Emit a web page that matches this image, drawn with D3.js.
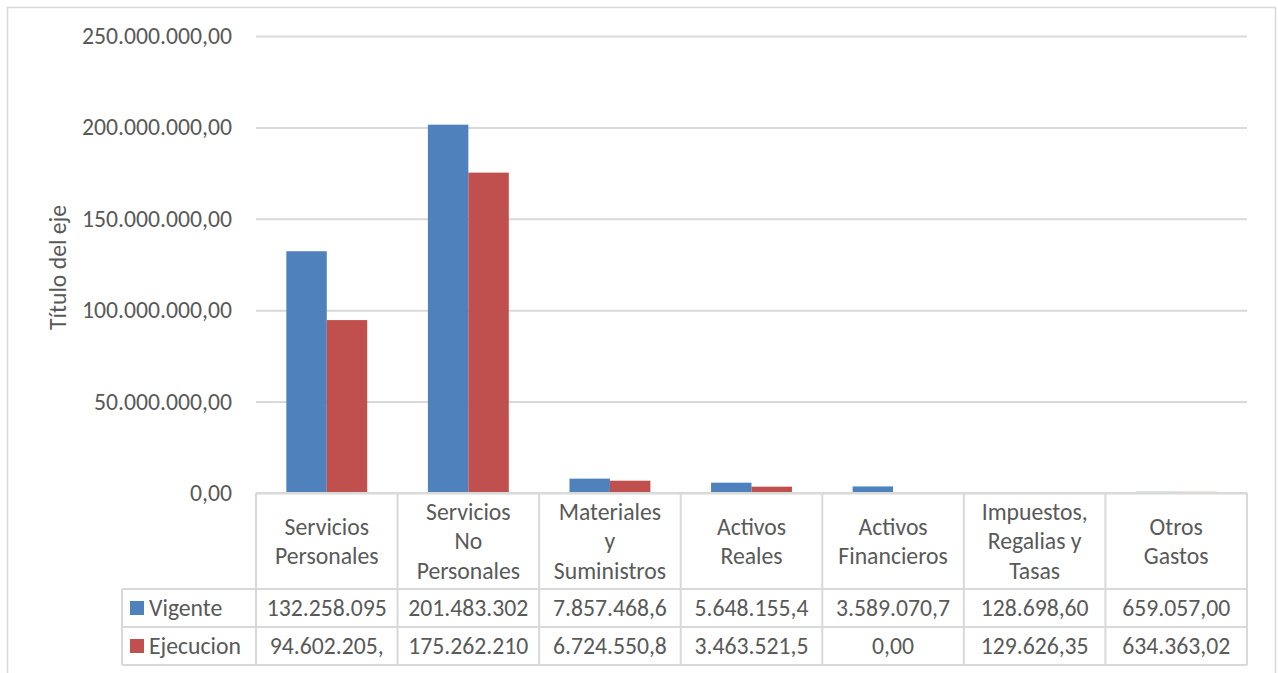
<!DOCTYPE html>
<html>
<head>
<meta charset="utf-8">
<script src="https://cdn.jsdelivr.net/npm/d3@7"></script>
<style>
  html, body { margin: 0; padding: 0; background: #fff; }
  svg { display: block; }
  text { font-family: Carlito, Lato, "Open Sans", sans-serif; fill: #595959; }
</style>
</head>
<body>
<svg id="chart" width="1278" height="673"></svg>
<script>
// ---- data ----
const categories = ["Servicios Personales", "Servicios No Personales", "Materiales y Suministros",
  "Activos Reales", "Activos Financieros", "Impuestos, Regalias y Tasas", "Otros Gastos"];
const categoryLines = [["Servicios", "Personales"], ["Servicios", "No", "Personales"],
  ["Materiales", "y", "Suministros"], ["Activos", "Reales"], ["Activos", "Financieros"],
  ["Impuestos,", "Regalias y", "Tasas"], ["Otros", "Gastos"]];
const seriesNames = ["Vigente", "Ejecucion"];
const vigente = [132258095, 201483302, 7857468.6, 5648155.4, 3589070.7, 128698.60, 659057.00];
const ejecucion = [94602205, 175262210, 6724550.8, 3463521.5, 0, 129626.35, 634363.02];
// as shown (clipped) in the data table
const vigenteLabels = ["132.258.095", "201.483.302", "7.857.468,6", "5.648.155,4", "3.589.070,7", "128.698,60", "659.057,00"];
const ejecucionLabels = ["94.602.205,", "175.262.210", "6.724.550,8", "3.463.521,5", "0,00", "129.626,35", "634.363,02"];
const yTicks = [0, 50000000, 100000000, 150000000, 200000000, 250000000];
const seriesColors = ["#4F81BD", "#C0504D"];
const axisTitle = "Título del eje";

// ---- layout ----
const svg = d3.select("#chart");
const plotLeft = 256, plotRight = 1247, plotTop = 36, plotBottom = 493;
const headerBottom = 589, row1Bottom = 627, row2Bottom = 665, legendLeft = 122;
const gridColor = "#D9D9D9";
const fontSize = 23.7;

const locale = d3.formatLocale({decimal: ",", thousands: ".", grouping: [3], currency: ["", ""]});
const fmt = locale.format(",.2f");

const x = d3.scaleBand().domain(categories).range([plotLeft, plotRight]).paddingInner(0).paddingOuter(0);
const xs = d3.scaleBand().domain(seriesNames).range([0, x.bandwidth()]).paddingInner(0).paddingOuter(0.75);
const y = d3.scaleLinear().domain([0, 250000000]).range([plotBottom, plotTop]);

// outer chart border
svg.append("rect").attr("x", 7.5).attr("y", 7.5).attr("width", 1268).attr("height", 700)
  .attr("fill", "none").attr("stroke", gridColor).attr("stroke-width", 1.5);

// gridlines + y axis labels via d3 axis
const yAxis = d3.axisLeft(y).tickValues(yTicks).tickFormat(fmt).tickSize(-(plotRight - plotLeft)).tickPadding(24);
const gy = svg.append("g").attr("transform", `translate(${plotLeft},0)`).call(yAxis);
gy.select(".domain").remove();
gy.selectAll(".tick line").attr("stroke", gridColor).attr("stroke-width", 2);
gy.selectAll(".tick text").attr("font-size", fontSize).attr("fill", "#595959")
  .style("font-family", "Carlito, Lato, 'Open Sans', sans-serif");

// axis title
svg.append("text")
  .attr("transform", `translate(66,${(plotTop + plotBottom) / 2 + 3}) rotate(-90)`)
  .attr("text-anchor", "middle")
  .attr("font-size", fontSize)
  .text(axisTitle);

// bars
const data = [vigente, ejecucion];
const seriesG = svg.append("g").selectAll("g").data(seriesNames).join("g")
  .attr("fill", (d, i) => seriesColors[i]);
seriesG.selectAll("rect")
  .data((s, i) => data[i].map((v, j) => ({cat: categories[j], v, s})))
  .join("rect")
  .attr("x", d => x(d.cat) + xs(d.s))
  .attr("width", xs.bandwidth())
  .attr("y", d => y(d.v))
  .attr("height", d => y(0) - y(d.v));

// ---- data table ----
const t = svg.append("g");
const lineStyle = sel => sel.attr("stroke", gridColor).attr("stroke-width", 2).attr("fill", "none");
// horizontal lines
t.append("line").attr("x1", plotLeft).attr("x2", plotRight).attr("y1", plotBottom).attr("y2", plotBottom).call(lineStyle);
[headerBottom, row1Bottom, row2Bottom].forEach(yy =>
  t.append("line").attr("x1", legendLeft).attr("x2", plotRight).attr("y1", yy).attr("y2", yy).call(lineStyle));
// vertical lines
t.append("line").attr("x1", legendLeft).attr("x2", legendLeft).attr("y1", headerBottom).attr("y2", row2Bottom).call(lineStyle);
const colEdges = categories.map(c => x(c)).concat([x(categories[categories.length - 1]) + x.bandwidth()]);
colEdges.forEach(xx =>
  t.append("line").attr("x1", xx).attr("x2", xx).attr("y1", plotBottom).attr("y2", row2Bottom).call(lineStyle));

// header labels
const lh = 29.5;
categories.forEach((c, i) => {
  const lines = categoryLines[i];
  const cy = (plotBottom + headerBottom) / 2;
  const txt = t.append("text").attr("text-anchor", "middle").attr("font-size", fontSize)
    .attr("x", x(c) + x.bandwidth() / 2);
  lines.forEach((ln, k) => {
    txt.append("tspan").attr("x", x(c) + x.bandwidth() / 2)
      .attr("y", cy + (k - (lines.length - 1) / 2) * lh)
      .attr("dy", "0.35em").text(ln);
  });
});

// value rows
const rows = [
  {name: seriesNames[0], labels: vigenteLabels, top: headerBottom, bottom: row1Bottom, color: seriesColors[0]},
  {name: seriesNames[1], labels: ejecucionLabels, top: row1Bottom, bottom: row2Bottom, color: seriesColors[1]}
];
rows.forEach(r => {
  const cy = (r.top + r.bottom) / 2;
  t.append("rect").attr("x", 130).attr("y", cy - 7).attr("width", 14).attr("height", 14).attr("fill", r.color);
  t.append("text").attr("x", 149).attr("y", cy).attr("dy", "0.35em").attr("font-size", fontSize).text(r.name);
  categories.forEach((c, i) => {
    t.append("text").attr("text-anchor", "middle").attr("font-size", fontSize)
      .attr("x", x(c) + x.bandwidth() / 2).attr("y", cy).attr("dy", "0.35em").text(r.labels[i]);
  });
});
</script>
</body>
</html>
